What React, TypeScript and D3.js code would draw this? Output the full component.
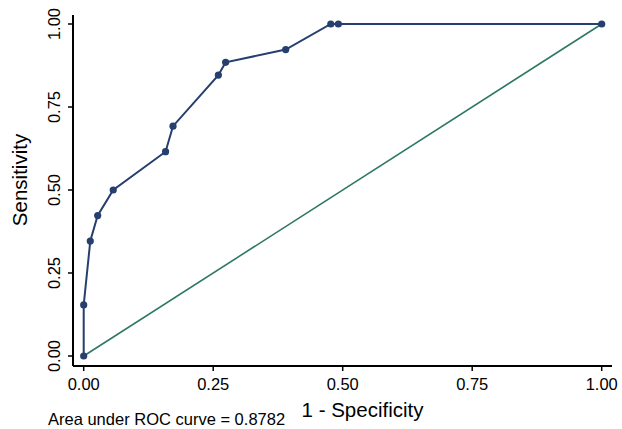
import React from "react";
import * as d3 from "d3";

// ROC points (1 - specificity, sensitivity)
const fpr = [0, 0, 0.0127, 0.027, 0.057, 0.158, 0.1724, 0.26, 0.274, 0.39, 0.477, 0.4916, 1];
const tpr = [0, 0.1538, 0.3462, 0.4231, 0.5, 0.6154, 0.6923, 0.8462, 0.8846, 0.9231, 1, 1, 1];
const xTicks = [0, 0.25, 0.5, 0.75, 1];
const yTicks = [0, 0.25, 0.5, 0.75, 1];
const aucLabel = "Area under ROC curve = 0.8782";

const W = 622;
const H = 429;
const FONT = "Liberation Sans, Arial, Helvetica, sans-serif";

export default function App() {
  const x = d3.scaleLinear().domain([0, 1]).range([83.7, 601.7]);
  const y = d3.scaleLinear().domain([0, 1]).range([356, 24]);

  const pts: [number, number][] = fpr.map((f, i) => [f, tpr[i]]);
  const line = d3
    .line<[number, number]>()
    .x((d) => x(d[0]))
    .y((d) => y(d[1]));

  const axisX0 = 73;
  const axisX1 = 612;
  const axisY = 366;
  const axisTop = 15;

  return (
    <svg
      width={W}
      height={H}
      style={{ position: "absolute", left: 0, top: 0, background: "#fff" }}
      fontFamily={FONT}
    >
      {/* reference line */}
      <path d={line([[0, 0], [1, 1]]) || ""} stroke="#2e7866" strokeWidth={1.6} fill="none" />
      {/* ROC curve */}
      <path d={line(pts) || ""} stroke="#263f6e" strokeWidth={2} fill="none" />
      {pts.map((d, i) => (
        <circle key={i} cx={x(d[0])} cy={y(d[1])} r={3.6} fill="#263f6e" />
      ))}

      {/* y axis */}
      <line x1={axisX0} x2={axisX0} y1={axisTop} y2={axisY} stroke="#000" strokeWidth={2} />
      {yTicks.map((t) => (
        <g key={t}>
          <line x1={axisX0 - 5} x2={axisX0} y1={y(t)} y2={y(t)} stroke="#000" strokeWidth={1.5} />
          <text
            transform={`translate(${axisX0 - 13},${y(t)}) rotate(-90)`}
            textAnchor="middle"
            fontSize={16.5}
          >
            {t.toFixed(2)}
          </text>
        </g>
      ))}
      <text transform={`translate(27,180) rotate(-90)`} textAnchor="middle" fontSize={20.5}>
        Sensitivity
      </text>

      {/* x axis */}
      <line x1={axisX0} x2={axisX1} y1={axisY} y2={axisY} stroke="#000" strokeWidth={2} />
      {xTicks.map((t) => (
        <g key={t}>
          <line x1={x(t)} x2={x(t)} y1={axisY} y2={axisY + 5} stroke="#000" strokeWidth={1.5} />
          <text x={x(t)} y={390} textAnchor="middle" fontSize={16.5}>
            {t.toFixed(2)}
          </text>
        </g>
      ))}
      <text x={362.5} y={417} textAnchor="middle" fontSize={20.5}>
        1 - Specificity
      </text>

      <text x={48} y={425} fontSize={16.5}>
        {aucLabel}
      </text>
    </svg>
  );
}
